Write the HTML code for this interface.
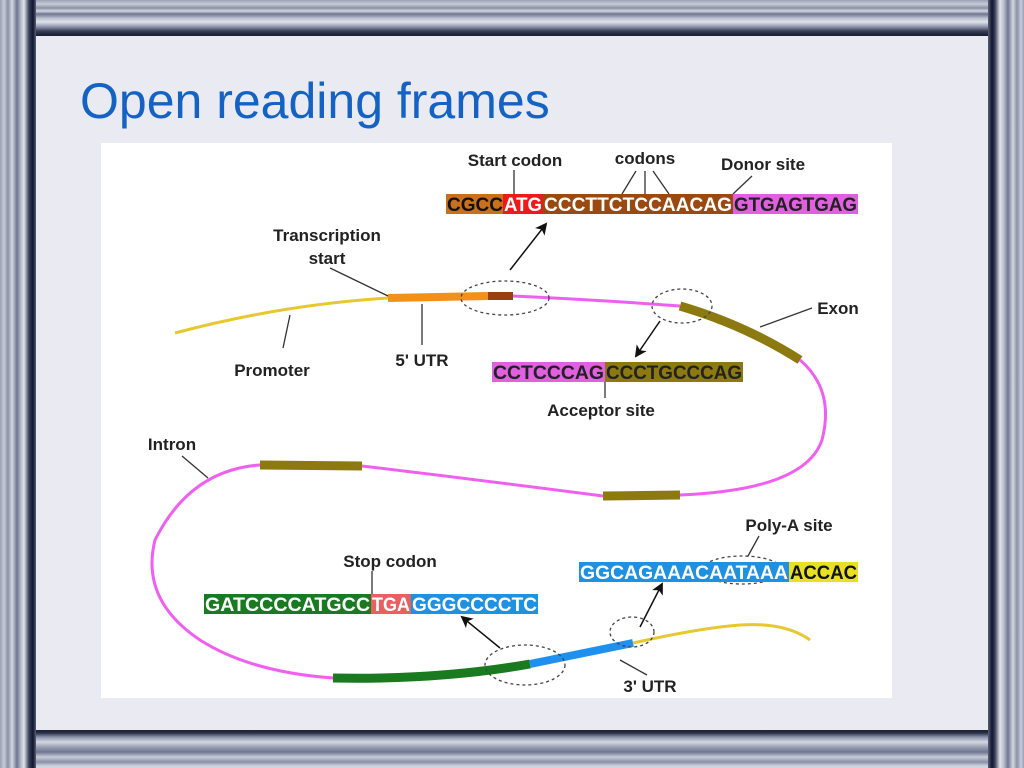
<!DOCTYPE html>
<html><head><style>
body{margin:0;width:1024px;height:768px;overflow:hidden;background:#e9eaf2;position:relative;font-family:"Liberation Sans",sans-serif}
.h{position:absolute;left:0;width:1024px}
.v{position:absolute;top:0;height:768px}
</style></head><body>
<div class="h" style="top:0;height:36px;background:linear-gradient(#9aa0b4 0,#c8ccd8 4px,#8a90a6 8px,#d4d8e2 11px,#6e7590 14px,#b8bdcc 18px,#e0e3ea 22px,#8a90a8 27px,#3a4058 31px,#1a2038 35px,#1a2038 36px)"></div>
<div class="h" style="top:730px;height:38px;background:linear-gradient(#1a2038 0,#2a3048 3px,#8a90a8 7px,#d4d8e2 12px,#9aa0b4 17px,#6e7590 22px,#c8ccd8 27px,#8a90a6 32px,#d0d4de 36px)"></div>
<div class="v" style="left:0;width:36px;background:linear-gradient(90deg,#9aa0b4 0,#c8ccd8 4px,#8a90a6 8px,#d4d8e2 12px,#6e7590 17px,#b8bdcc 21px,#e0e3ea 24px,#3a4058 29px,#10162e 33px,#5a6078 36px)"></div>
<div class="v" style="left:988px;width:36px;background:linear-gradient(90deg,#5a6078 0,#10162e 4px,#3a4058 7px,#e0e3ea 12px,#b8bdcc 16px,#6e7590 20px,#d4d8e2 25px,#8a90a6 29px,#c8ccd8 33px,#9aa0b4 36px)"></div>
<div style="position:absolute;left:80px;top:72px;font-size:50px;color:#1463c4;white-space:nowrap">Open reading frames</div>
<svg style="position:absolute;left:0;top:0" width="1024" height="768" font-family="Liberation Sans, sans-serif" font-weight="bold">
<rect x="101" y="143" width="791" height="555" fill="#fff"/>
<defs><marker id="a" markerWidth="12" markerHeight="12" refX="10" refY="6" orient="auto" markerUnits="userSpaceOnUse" viewBox="0 0 12 12"><path d="M0,0L12,6L0,12L3,6z" fill="#111"/></marker></defs>
<g fill="none" stroke-linecap="butt">
<path d="M175,333 Q280,305 388,298" stroke="#e8c830" stroke-width="3"/>
<path d="M388,298 L488,296" stroke="#f39019" stroke-width="8"/>
<path d="M488,296 L513,296" stroke="#9a4010" stroke-width="8"/>
<path d="M513,296 Q600,300 680,306" stroke="#f060f0" stroke-width="3"/>
<path d="M680,306 Q745,325 800,360" stroke="#8c7a10" stroke-width="9"/>
<path d="M800,360 Q835,390 822,440 Q805,490 680,495" stroke="#f060f0" stroke-width="3"/>
<path d="M680,495 L603,496" stroke="#8c7a10" stroke-width="9"/>
<path d="M603,496 Q480,480 362,466" stroke="#f060f0" stroke-width="3"/>
<path d="M362,466 L260,465" stroke="#8c7a10" stroke-width="9"/>
<path d="M260,465 Q190,470 155,540 Q140,600 200,640 Q250,672 333,678" stroke="#f060f0" stroke-width="3"/>
<path d="M333,678 Q440,680 530,664" stroke="#1a7a20" stroke-width="9"/>
<path d="M530,664 L633,643" stroke="#1e90f0" stroke-width="8"/>
<path d="M633,643 Q700,628 740,625 Q785,622 810,640" stroke="#e8c830" stroke-width="3"/>
</g>
<g fill="none" stroke="#444" stroke-dasharray="3,3" stroke-width="1.3">
<ellipse cx="505" cy="298" rx="44" ry="17"/>
<ellipse cx="682" cy="306" rx="30" ry="17"/>
<ellipse cx="742" cy="570" rx="40" ry="14"/>
<ellipse cx="525" cy="665" rx="40" ry="20"/>
<ellipse cx="632" cy="632" rx="22" ry="15"/>
</g>
<g stroke="#333" stroke-width="1.3" fill="none">
<path d="M514,170V194M636,171L622,194M645,171V194M653,171L669,194M752,176L733,194M330,268L388,296M290,315L283,348M422,304V345M812,308L760,327M605,382V398M182,456L208,478M372,571V594M759,536L748,556M620,660L647,675"/>
</g>
<g stroke="#111" stroke-width="1.5" marker-end="url(#a)">
<line x1="510" y1="270" x2="546" y2="224"/>
<line x1="660" y1="321" x2="636" y2="356"/>
<line x1="500" y1="648" x2="462" y2="617"/>
<line x1="640" y1="627" x2="662" y2="584"/>
</g>
<rect x="446" y="194" width="57" height="20" fill="#c8701c"/>
<rect x="503" y="194" width="40" height="20" fill="#ee1a1a"/>
<rect x="543" y="194" width="190" height="20" fill="#9a4a10"/>
<rect x="733" y="194" width="125" height="20" fill="#e060e0"/>
<g font-size="19">
<text x="447" y="211" textLength="56" lengthAdjust="spacingAndGlyphs" fill="#111">CGCC</text>
<text x="504" y="211" textLength="38" lengthAdjust="spacingAndGlyphs" fill="#fff">ATG</text>
<text x="544" y="211" textLength="188" lengthAdjust="spacingAndGlyphs" fill="#fff">CCCTTCTCCAACAG</text>
<text x="734" y="211" textLength="123" lengthAdjust="spacingAndGlyphs" fill="#222">GTGAGTGAG</text>
</g>
<rect x="492" y="362" width="113" height="20" fill="#e060e0"/>
<rect x="605" y="362" width="138" height="20" fill="#8c7a10"/>
<g font-size="19">
<text x="493" y="379" textLength="111" lengthAdjust="spacingAndGlyphs" fill="#222">CCTCCCAG</text>
<text x="606" y="379" textLength="136" lengthAdjust="spacingAndGlyphs" fill="#222">CCCTGCCCAG</text>
</g>
<rect x="204" y="594" width="167" height="20" fill="#1a7a20"/>
<rect x="371" y="594" width="40" height="20" fill="#e86060"/>
<rect x="411" y="594" width="127" height="20" fill="#2090e0"/>
<g font-size="19" fill="#fff">
<text x="205" y="611" textLength="165" lengthAdjust="spacingAndGlyphs">GATCCCCATGCC</text>
<text x="372" y="611" textLength="38" lengthAdjust="spacingAndGlyphs">TGA</text>
<text x="412" y="611" textLength="125" lengthAdjust="spacingAndGlyphs">GGGCCCCTC</text>
</g>
<rect x="579" y="562" width="210" height="20" fill="#2090e0"/>
<rect x="789" y="562" width="69" height="20" fill="#e8e020"/>
<g font-size="19">
<text x="580" y="579" textLength="208" lengthAdjust="spacingAndGlyphs" fill="#fff">GGCAGAAACAATAAA</text>
<text x="790" y="579" textLength="67" lengthAdjust="spacingAndGlyphs" fill="#111">ACCAC</text>
</g>
<g font-size="17" fill="#222" text-anchor="middle">
<text x="515" y="166">Start codon</text>
<text x="645" y="164">codons</text>
<text x="763" y="170">Donor site</text>
<text x="327" y="241">Transcription</text>
<text x="327" y="264">start</text>
<text x="272" y="376">Promoter</text>
<text x="422" y="366">5' UTR</text>
<text x="838" y="314">Exon</text>
<text x="601" y="416">Acceptor site</text>
<text x="172" y="450">Intron</text>
<text x="390" y="567">Stop codon</text>
<text x="789" y="531">Poly-A site</text>
<text x="650" y="692">3' UTR</text>
</g>
</svg>
</body></html>
